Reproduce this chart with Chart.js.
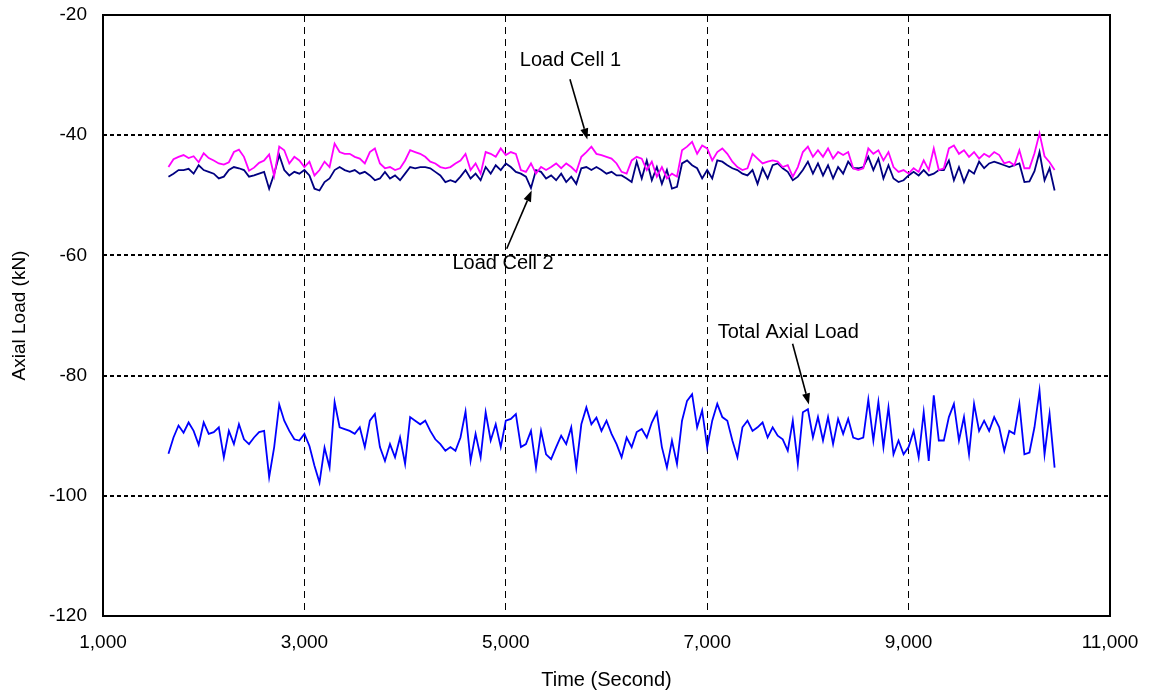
<!DOCTYPE html>
<html>
<head>
<meta charset="utf-8">
<script src="https://cdn.jsdelivr.net/npm/chart.js@4.4.0/dist/chart.umd.min.js"></script>
<style>
html, body { margin: 0; padding: 0; background: #fff; }
#wrap { width: 1153px; height: 696px; }
</style>
</head>
<body>
<div id="wrap"><canvas id="loadChart" width="1153" height="696"></canvas></div>
<script>
// sample times (s)
var times = [
  1650, 1700, 1750, 1800, 1850, 1900, 1950, 2000, 2050, 2100,
  2150, 2200, 2250, 2300, 2350, 2400, 2450, 2500, 2550, 2600,
  2650, 2700, 2750, 2800, 2850, 2900, 2950, 3000, 3050, 3100,
  3150, 3200, 3250, 3300, 3350, 3400, 3450, 3500, 3550, 3600,
  3650, 3700, 3750, 3800, 3850, 3900, 3950, 4000, 4050, 4100,
  4150, 4200, 4250, 4300, 4350, 4400, 4450, 4500, 4550, 4600,
  4650, 4700, 4750, 4800, 4850, 4900, 4950, 5000, 5050, 5100,
  5150, 5200, 5250, 5300, 5350, 5400, 5450, 5500, 5550, 5600,
  5650, 5700, 5750, 5800, 5850, 5900, 5950, 6000, 6050, 6100,
  6150, 6200, 6250, 6300, 6350, 6400, 6450, 6500, 6550, 6600,
  6650, 6700, 6750, 6800, 6850, 6900, 6950, 7000, 7050, 7100,
  7150, 7200, 7250, 7300, 7350, 7400, 7450, 7500, 7550, 7600,
  7650, 7700, 7750, 7800, 7850, 7900, 7950, 8000, 8050, 8100,
  8150, 8200, 8250, 8300, 8350, 8400, 8450, 8500, 8550, 8600,
  8650, 8700, 8750, 8800, 8850, 8900, 8950, 9000, 9050, 9100,
  9150, 9200, 9250, 9300, 9350, 9400, 9450, 9500, 9550, 9600,
  9650, 9700, 9750, 9800, 9850, 9900, 9950, 10000, 10050, 10100,
  10150, 10200, 10250, 10300, 10350, 10400, 10450
];

// axial load (kN)
var loadCell1 = [
  -45.3, -44.0, -43.6, -43.3, -43.8, -43.5, -44.5, -43.0, -43.8, -44.2,
  -44.7, -44.9, -44.5, -42.8, -42.4, -43.6, -45.9, -45.4, -44.6, -44.2,
  -43.2, -46.8, -41.9, -42.5, -44.7, -43.6, -44.2, -45.3, -44.4, -46.7,
  -45.8, -44.4, -45.3, -41.4, -42.8, -43.1, -43.1, -43.6, -43.9, -44.7,
  -42.8, -42.2, -44.7, -45.5, -45.3, -45.8, -45.5, -44.2, -42.5, -42.8,
  -43.1, -43.6, -44.4, -44.7, -45.3, -45.5, -45.3, -44.7, -44.2, -43.1,
  -45.8, -44.7, -46.4, -42.8, -43.1, -43.6, -42.2, -43.3, -42.8, -43.1,
  -45.8, -46.1, -44.7, -46.4, -45.3, -45.8, -45.3, -44.7, -45.5, -44.7,
  -45.3, -46.1, -43.6, -42.8, -41.9, -43.1, -43.3, -43.6, -43.9, -44.7,
  -46.1, -46.4, -44.2, -43.6, -43.9, -45.8, -44.4, -46.9, -45.3, -47.2,
  -46.4, -46.9, -42.5, -41.9, -41.1, -43.1, -41.7, -42.2, -44.2, -42.8,
  -42.2, -43.1, -44.4, -45.3, -45.8, -45.5, -43.1, -43.9, -44.7, -44.4,
  -44.2, -44.4, -45.3, -45.0, -46.9, -45.3, -42.8, -41.9, -43.6, -42.5,
  -43.6, -42.2, -43.9, -42.8, -43.3, -42.8, -45.5, -45.8, -45.5, -42.2,
  -43.1, -42.5, -44.2, -42.8, -45.3, -46.1, -45.8, -46.4, -45.5, -46.1,
  -44.2, -45.8, -42.2, -45.8, -45.5, -42.2, -41.7, -43.1, -42.5, -43.6,
  -42.8, -43.9, -43.1, -43.6, -42.8, -43.3, -44.7, -44.4, -45.0, -42.5,
  -45.5, -45.5, -43.0, -39.7, -43.5, -44.5, -45.8
];

var loadCell2 = [
  -46.9, -46.4, -45.8, -45.8, -45.6, -46.4, -45.0, -45.8, -46.1, -46.4,
  -47.2, -46.9, -45.8, -45.3, -45.5, -45.8, -46.9, -46.7, -46.4, -46.1,
  -48.9, -46.4, -43.3, -45.8, -46.7, -46.1, -46.4, -45.8, -46.7, -48.9,
  -49.2, -47.8, -47.2, -45.8, -45.3, -45.8, -46.1, -45.8, -46.4, -46.1,
  -46.7, -47.5, -47.2, -46.1, -47.2, -46.7, -47.5, -46.4, -45.3, -45.5,
  -45.3, -45.3, -45.5, -46.1, -46.7, -47.8, -47.5, -47.8, -46.9, -45.8,
  -47.2, -46.4, -47.5, -45.3, -46.4, -45.0, -45.8, -44.7, -45.3, -46.1,
  -46.4, -46.9, -48.8, -45.8, -46.1, -47.2, -46.7, -47.5, -46.4, -47.8,
  -46.9, -48.1, -45.5, -45.3, -45.8, -45.3, -45.8, -46.4, -46.1, -46.7,
  -46.7, -47.2, -47.8, -44.4, -47.2, -44.2, -47.5, -45.3, -48.1, -45.8,
  -48.9, -48.6, -44.7, -44.2, -45.0, -45.5, -47.2, -45.8, -47.2, -44.2,
  -44.4, -45.0, -45.5, -45.8, -46.4, -46.7, -45.8, -48.1, -45.5, -47.2,
  -45.0, -44.7, -45.5, -46.1, -47.5, -46.9, -45.8, -44.4, -46.4, -44.7,
  -46.7, -45.0, -47.2, -45.3, -46.4, -44.4, -45.5, -45.5, -45.3, -43.6,
  -45.8, -43.9, -47.2, -45.0, -47.2, -47.8, -47.5, -46.7, -46.1, -46.7,
  -45.8, -46.7, -46.4, -45.8, -45.8, -44.2, -47.5, -45.3, -47.8, -45.8,
  -46.4, -44.4, -45.5, -44.7, -44.4, -44.7, -45.0, -45.3, -45.0, -44.7,
  -47.8, -47.7, -46.0, -42.8, -47.5, -45.5, -49.2
];

var totalLoad = [
  -93.0, -90.3, -88.3, -89.5, -87.8, -89.2, -91.5, -87.8, -89.7, -89.4,
  -88.6, -93.6, -89.2, -91.4, -88.1, -90.6, -91.4, -90.3, -89.4, -89.2,
  -96.9, -91.9, -84.8, -87.5, -89.2, -90.6, -90.8, -89.7, -91.7, -95.0,
  -97.8, -92.0, -95.3, -84.4, -88.6, -88.9, -89.2, -89.7, -88.6, -91.9,
  -87.5, -86.4, -91.9, -94.2, -91.4, -93.6, -90.3, -94.7, -86.9, -87.5,
  -88.1, -87.5, -89.2, -90.6, -91.4, -92.5, -91.9, -92.5, -90.3, -86.0,
  -94.2, -89.7, -93.6, -86.1, -90.8, -88.1, -91.9, -87.5, -87.2, -86.4,
  -91.9, -91.4, -89.2, -95.3, -89.2, -93.1, -93.9, -91.9, -90.0, -91.4,
  -88.6, -95.3, -88.1, -85.3, -88.1, -87.0, -89.2, -87.5, -89.7, -91.4,
  -93.6, -90.3, -91.9, -89.4, -88.9, -90.3, -87.8, -86.1, -91.9, -95.3,
  -90.8, -94.7, -87.5, -84.2, -83.1, -88.6, -85.8, -91.9, -87.5, -84.7,
  -86.9, -87.5, -90.8, -93.6, -88.6, -87.5, -89.2, -88.6, -87.8, -90.3,
  -88.6, -90.0, -90.6, -92.5, -87.5, -94.7, -86.1, -85.6, -90.3, -86.9,
  -90.8, -86.9, -91.4, -87.2, -89.7, -87.2, -90.3, -90.6, -90.3, -84.0,
  -90.8, -84.4, -91.9, -85.3, -93.1, -90.8, -93.1, -91.9, -89.2, -93.6,
  -86.1, -94.2, -83.3, -90.8, -90.8, -86.9, -84.7, -90.8, -86.9, -93.1,
  -84.7, -89.2, -87.5, -89.2, -86.9, -88.6, -92.5, -89.2, -89.7, -84.7,
  -93.1, -92.8, -88.6, -82.5, -93.1, -86.4, -95.3
];

var xTicks = [1000, 3000, 5000, 7000, 9000, 11000];
var yTicks = [-120, -100, -80, -60, -40, -20];

// callouts: label, text centre, arrow start, arrow tip (data units)
var noteLabels = ['Load Cell 1', 'Load Cell 2', 'Total Axial Load'];
var noteText = [[5642, -27.6], [4972, -61.3], [7805, -72.8]];
var noteFrom = [[5637, -30.7], [5009, -58.9], [7848, -74.7]];
var noteTo = [[5810, -40.7], [5257, -49.2], [8010, -84.8]];

var fontFamily = '"Liberation Sans", Arial, sans-serif';

function toPoints(vals) {
    return times.map(function (t, i) { return {x: t, y: vals[i]}; });
}

var framePlugin = {
    id: 'frame',
    afterDatasetsDraw: function (chart) {
        var a = chart.chartArea;
        var ctx = chart.ctx;
        ctx.save();
        ctx.setLineDash([]);
        ctx.strokeStyle = '#000';
        ctx.lineWidth = 2;
        ctx.strokeRect(a.left, a.top, a.right - a.left, a.bottom - a.top);
        ctx.restore();
    }
};

var notePlugin = {
    id: 'notes',
    afterDraw: function (chart) {
        var xs = chart.scales.x, ys = chart.scales.y;
        var ctx = chart.ctx;
        ctx.save();
        ctx.fillStyle = '#000';
        ctx.strokeStyle = '#000';
        ctx.lineWidth = 1.6;
        ctx.font = '20px ' + fontFamily;
        ctx.textAlign = 'center';
        ctx.textBaseline = 'middle';
        noteLabels.forEach(function (label, i) {
            ctx.fillText(label, xs.getPixelForValue(noteText[i][0]), ys.getPixelForValue(noteText[i][1]));
            var x0 = xs.getPixelForValue(noteFrom[i][0]), y0 = ys.getPixelForValue(noteFrom[i][1]);
            var x1 = xs.getPixelForValue(noteTo[i][0]), y1 = ys.getPixelForValue(noteTo[i][1]);
            var ang = Math.atan2(y1 - y0, x1 - x0);
            var len = 11, half = 4;
            var bx = x1 - len * Math.cos(ang), by = y1 - len * Math.sin(ang);
            ctx.beginPath();
            ctx.moveTo(x0, y0);
            ctx.lineTo(bx, by);
            ctx.stroke();
            ctx.beginPath();
            ctx.moveTo(x1, y1);
            ctx.lineTo(bx + half * Math.sin(ang), by - half * Math.cos(ang));
            ctx.lineTo(bx - half * Math.sin(ang), by + half * Math.cos(ang));
            ctx.closePath();
            ctx.fill();
        });
        ctx.restore();
    }
};

var chart = new Chart(document.getElementById('loadChart'), {
    type: 'line',
    data: {
        datasets: [{
            label: 'Load Cell 1',
            data: toPoints(loadCell1),
            borderColor: '#ff00ff',
            borderWidth: 1.8
        }, {
            label: 'Load Cell 2',
            data: toPoints(loadCell2),
            borderColor: '#000080',
            borderWidth: 1.8
        }, {
            label: 'Total Axial Load',
            data: toPoints(totalLoad),
            borderColor: '#0000ff',
            borderWidth: 1.8
        }]
    },
    options: {
        responsive: false,
        animation: false,
        devicePixelRatio: 1,
        layout: { padding: { left: 0, top: 15, right: 43, bottom: 0 } },
        elements: { point: { radius: 0 }, line: { tension: 0, fill: false } },
        plugins: { legend: { display: false }, tooltip: { enabled: false } },
        scales: {
            x: {
                type: 'linear',
                min: 1000,
                max: 11000,
                afterBuildTicks: function (s) { s.ticks = xTicks.map(function (v) { return {value: v}; }); },
                afterFit: function (s) {
                    s.height = 80;
                    s.paddingLeft = 0;
                    s.paddingRight = 0;
                },
                border: { display: false, dash: [7, 5] },
                grid: { color: '#000', lineWidth: 1, drawTicks: false },
                ticks: {
                    color: '#000',
                    padding: 15,
                    maxRotation: 0,
                    font: { family: fontFamily, size: 19 },
                    callback: function (v) { return v.toLocaleString('en-US'); }
                },
                title: {
                    display: true,
                    text: 'Time (Second)',
                    color: '#000',
                    font: { family: fontFamily, size: 20 },
                    padding: { top: 0, bottom: 4 }
                }
            },
            y: {
                min: -120,
                max: -20,
                afterBuildTicks: function (s) { s.ticks = yTicks.map(function (v) { return {value: v}; }); },
                afterFit: function (s) {
                    s.width = 103;
                    s.paddingTop = 0;
                    s.paddingBottom = 0;
                },
                border: { display: false, dash: [4, 3] },
                grid: { color: '#000', lineWidth: 2, drawTicks: false },
                ticks: {
                    color: '#000',
                    padding: 16,
                    font: { family: fontFamily, size: 19 },
                    callback: function (v) { return String(v); }
                },
                title: {
                    display: true,
                    text: 'Axial Load (kN)',
                    color: '#000',
                    font: { family: fontFamily, size: 19 },
                    padding: { top: 8, bottom: 0 }
                }
            }
        }
    },
    plugins: [framePlugin, notePlugin]
});
</script>
</body>
</html>
